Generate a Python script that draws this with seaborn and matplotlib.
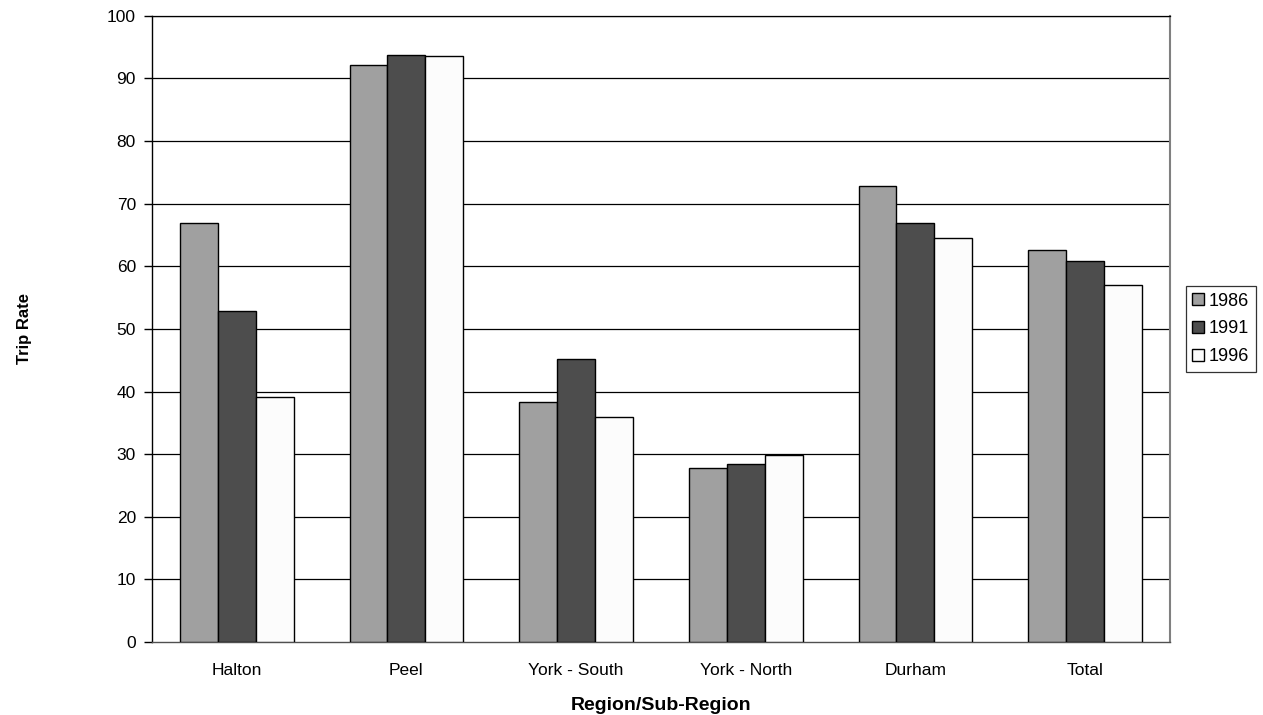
import matplotlib
matplotlib.use("Agg")
import matplotlib.pyplot as plt
import numpy as np
import pandas as pd
import seaborn as sns

regions = ["Halton", "Peel", "York - South", "York - North", "Durham", "Total"]
years = ["1986", "1991", "1996"]
rate_1986 = [66.9, 92.1, 38.3, 27.8, 72.8, 62.6]
rate_1991 = [52.9, 93.7, 45.2, 28.5, 66.9, 60.8]
rate_1996 = [39.1, 93.5, 36.0, 29.8, 64.5, 57.0]
yticks = list(range(0, 101, 10))

df = pd.DataFrame({
    "Region": regions * 3,
    "Year": [y for y in years for _ in regions],
    "Rate": rate_1986 + rate_1991 + rate_1996,
})

sns.set_theme(style="white")
plt.rcParams["font.family"] = ["Liberation Sans", "DejaVu Sans"]
plt.rcParams["text.color"] = "black"
plt.rcParams["axes.labelcolor"] = "black"
plt.rcParams["xtick.color"] = "black"
plt.rcParams["ytick.color"] = "black"

fig = plt.figure(figsize=(12.63, 7.15), dpi=100)
ax = fig.add_axes([0.1203, 0.102, 0.806, 0.876])

palette = {"1986": "#a0a0a0", "1991": "#4d4d4d", "1996": "#fcfcfc"}
sns.barplot(data=df, x="Region", y="Rate", hue="Year", order=regions,
            hue_order=years, palette=palette, width=0.67, saturation=1,
            edgecolor="black", linewidth=1.0, ax=ax, zorder=3, legend=True)

ax.set_ylim(0, 100)
ax.set_xlim(-0.5, len(regions) - 0.5)
ax.set_yticks(yticks)
ax.set_yticklabels([str(v) for v in yticks], fontsize=12.5)
for v in yticks[1:]:
    ax.axhline(v, color="black", lw=0.9, zorder=1)

ax.set_xticks(range(len(regions)))
ax.set_xticklabels(regions, fontsize=12.5)
ax.set_xticks(np.arange(-0.5, len(regions)), minor=True)
ax.tick_params(axis="x", which="major", length=0, pad=15)
ax.tick_params(axis="x", which="minor", length=4.5, width=1, color="#404040", direction="out")
ax.tick_params(axis="y", which="major", length=5.5, width=1, color="black",
               direction="out", pad=6, left=True)

ax.spines["left"].set_color("black")
ax.spines["left"].set_linewidth(1.0)
ax.spines["bottom"].set_color("#505050")
ax.spines["bottom"].set_linewidth(1.0)
ax.spines["right"].set_color("#808080")
ax.spines["right"].set_linewidth(1.5)
ax.spines["top"].set_color("black")
ax.spines["top"].set_linewidth(0.9)

ax.set_xlabel("Region/Sub-Region", fontsize=14, fontweight="bold")
ax.set_ylabel("Trip Rate", fontsize=12, fontweight="bold")
ax.xaxis.set_label_coords(0.5, -0.088)
ax.yaxis.set_label_coords(-0.118, 0.5)

handles, labels = ax.get_legend_handles_labels()
leg = ax.legend(handles, labels, loc="center left", bbox_to_anchor=(1.0157, 0.5),
                frameon=True, fancybox=False, edgecolor="black", fontsize=13,
                handlelength=0.67, handleheight=0.67, handletextpad=0.25,
                borderpad=0.35, labelspacing=0.6, borderaxespad=0)
leg.get_frame().set_linewidth(0.9)

fig.savefig("out.png", dpi=100, facecolor="white")
